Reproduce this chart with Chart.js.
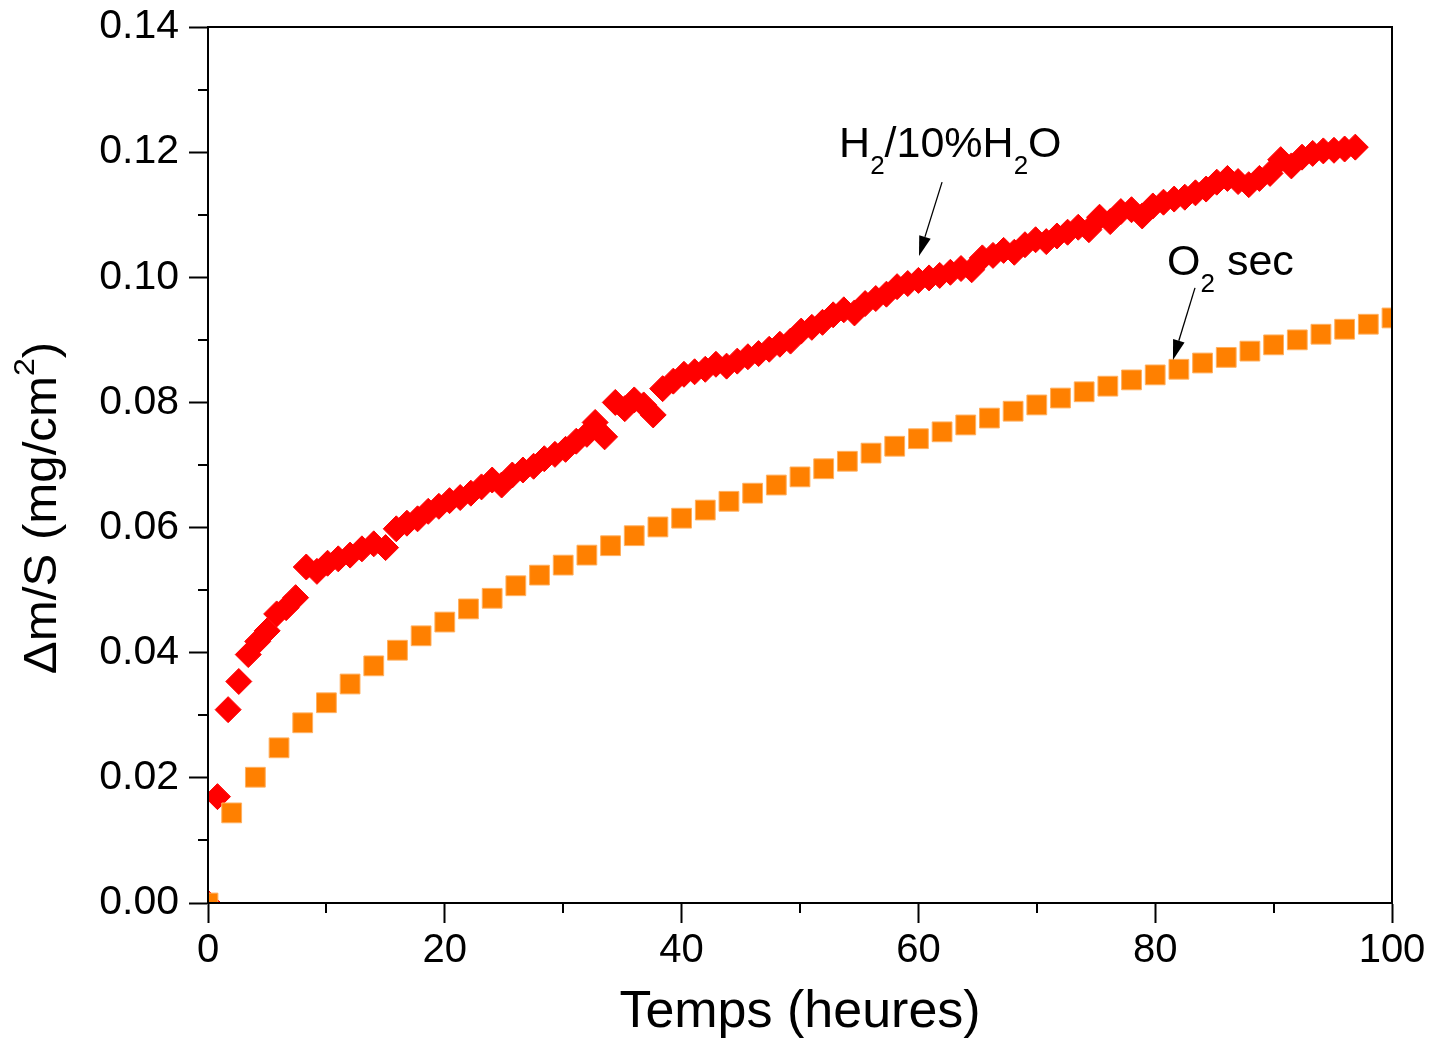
<!DOCTYPE html>
<html>
<head>
<meta charset="utf-8">
<script src="https://cdn.jsdelivr.net/npm/chart.js@4/dist/chart.umd.min.js"></script>
<style>
  html, body { margin: 0; background: #fff; }
</style>
</head>
<body>
<canvas id="myChart" width="1431" height="1039"></canvas>
<script>
// O2 sec (orange squares), every 2 h
const o2Hours = [0, 2, 4, 6, 8, 10, 12, 14, 16, 18, 20, 22, 24, 26, 28, 30, 32, 34, 36, 38, 40,
  42, 44, 46, 48, 50, 52, 54, 56, 58, 60, 62, 64, 66, 68, 70, 72, 74, 76, 78, 80,
  82, 84, 86, 88, 90, 92, 94, 96, 98, 100];
const o2Gain = [0, 0.0144, 0.0201, 0.0248, 0.0288, 0.0320, 0.0350, 0.0379, 0.0404, 0.0427, 0.0449,
  0.0470, 0.0487, 0.0507, 0.0524, 0.0540, 0.0556, 0.0571, 0.0587, 0.0601, 0.0615,
  0.0628, 0.0642, 0.0655, 0.0668, 0.0681, 0.0694, 0.0706, 0.0719, 0.0730, 0.0742,
  0.0753, 0.0764, 0.0775, 0.0786, 0.0796, 0.0807, 0.0817, 0.0826, 0.0836, 0.0844,
  0.0853, 0.0863, 0.0872, 0.0882, 0.0892, 0.0900, 0.0909, 0.0917, 0.0925, 0.0935];

// H2/10%H2O (red diamonds)
const h2oHours = [0, 0.8, 1.7, 2.6, 3.4, 4.2, 5.0, 5.8, 6.6, 7.4, 8.3, 9.2, 10.1, 11.0, 12.0,
  13.0, 14.0, 15.0, 15.9, 16.8, 17.7, 18.6, 19.5, 20.4, 21.3, 22.2, 23.1, 24.0, 24.8, 25.7,
  26.6, 27.5, 28.4, 29.3, 30.2, 31.1, 32.0, 32.7, 33.5, 34.4, 35.2, 36.0, 36.8, 37.6, 38.4,
  39.3, 40.2, 41.1, 42.0, 42.9, 43.8, 44.7, 45.6, 46.5, 47.4, 48.3, 49.2, 50.1, 51.0, 51.9,
  52.8, 53.7, 54.6, 55.5, 56.4, 57.3, 58.2, 59.1, 60.0, 60.9, 61.8, 62.7, 63.6, 64.5, 65.4,
  66.3, 67.2, 68.1, 69.0, 69.9, 70.8, 71.7, 72.6, 73.5, 74.4, 75.3, 76.2, 77.1, 78.0, 78.9,
  79.8, 80.7, 81.6, 82.5, 83.4, 84.3, 85.2, 86.1, 87.0, 87.9, 88.8, 89.7, 90.6, 91.5, 92.4,
  93.3, 94.2, 95.1, 96.0, 96.9];
const h2oGain = [0, 0.0170, 0.0309, 0.0354, 0.0397, 0.0418, 0.0435, 0.0462, 0.0472, 0.0488,
  0.0537, 0.0530, 0.0543, 0.0550, 0.0556, 0.0566, 0.0574, 0.0568, 0.0598, 0.0607,
  0.0614, 0.0626, 0.0634, 0.0643, 0.0648, 0.0655, 0.0665, 0.0676, 0.0668, 0.0684,
  0.0692, 0.0698, 0.0710, 0.0717, 0.0725, 0.0738, 0.0749, 0.0768, 0.0745, 0.0800,
  0.0790, 0.0804, 0.0796, 0.0780, 0.0822, 0.0834, 0.0845, 0.0849, 0.0853, 0.0861,
  0.0858, 0.0866, 0.0873, 0.0878, 0.0885, 0.0893, 0.0898, 0.0914, 0.0920, 0.0928,
  0.0940, 0.0948, 0.0943, 0.0958, 0.0966, 0.0973, 0.0985, 0.0990, 0.0995, 0.0999,
  0.1003, 0.1008, 0.1014, 0.1012, 0.1031, 0.1035, 0.1043, 0.1040, 0.1052, 0.1060,
  0.1057, 0.1066, 0.1072, 0.1080, 0.1076, 0.1096, 0.1089, 0.1105, 0.1108, 0.1098,
  0.1114, 0.1120, 0.1125, 0.1128, 0.1135, 0.1141, 0.1152, 0.1158, 0.1153, 0.1148,
  0.1158, 0.1166, 0.1188, 0.1178, 0.1192, 0.1198, 0.1202, 0.1203, 0.1205, 0.1208];

// axis ticks
const xMinorTicks = [10, 30, 50, 70, 90];
const yMinorTicks = [0.01, 0.03, 0.05, 0.07, 0.09, 0.11, 0.13];

// annotations: text pieces (second item: 1 = subscript), anchor in data units
const labelH2O = [['H', 0], ['2', 1], ['/10%H', 0], ['2', 1], ['O', 0]];
const labelH2OAt = [53.3, 0.1192];
const arrowH2O = [[62.0, 0.1152], [60.05, 0.1034]];
const labelO2 = [['O', 0], ['2', 1], [' sec', 0]];
const labelO2At = [81.0, 0.1004];
const arrowO2 = [[83.36, 0.0983], [81.5, 0.0868]];

const FONT = '"Liberation Sans", Arial, sans-serif';
Chart.defaults.font.family = FONT;
Chart.defaults.color = '#000';

function toXY(a, b) { return a.map((v, i) => ({x: v, y: b[i]})); }

function drawPieces(ctx, pieces, x, y) {
  let cx = x;
  pieces.forEach(([txt, sub]) => {
    ctx.font = sub ? '26px ' + FONT : '43px ' + FONT;
    ctx.fillText(txt, cx, sub ? y + 17 : y);
    cx += ctx.measureText(txt).width;
  });
}

function drawArrow(ctx, x1, y1, x2, y2) {
  const ang = Math.atan2(y2 - y1, x2 - x1);
  const len = 20, half = 6;
  ctx.strokeStyle = '#000';
  ctx.lineWidth = 1.3;
  ctx.beginPath();
  ctx.moveTo(x1, y1);
  ctx.lineTo(x2 - Math.cos(ang) * len, y2 - Math.sin(ang) * len);
  ctx.stroke();
  ctx.beginPath();
  ctx.moveTo(x2, y2);
  ctx.lineTo(x2 - Math.cos(ang) * len - Math.sin(ang) * half, y2 - Math.sin(ang) * len + Math.cos(ang) * half);
  ctx.lineTo(x2 - Math.cos(ang) * len + Math.sin(ang) * half, y2 - Math.sin(ang) * len - Math.cos(ang) * half);
  ctx.closePath();
  ctx.fillStyle = '#000';
  ctx.fill();
}

const extras = {
  id: 'extras',
  afterDraw(chart) {
    const ctx = chart.ctx;
    const area = chart.chartArea;
    const xs = chart.scales.x, ys = chart.scales.y;
    ctx.save();
    // frame
    ctx.strokeStyle = '#000';
    ctx.lineWidth = 2;
    ctx.strokeRect(area.left, area.top, area.right - area.left, area.bottom - area.top);
    // minor ticks
    ctx.beginPath();
    xMinorTicks.forEach(v => {
      const px = Math.round(xs.getPixelForValue(v));
      ctx.moveTo(px, area.bottom);
      ctx.lineTo(px, area.bottom + 10);
    });
    yMinorTicks.forEach(v => {
      const py = Math.round(ys.getPixelForValue(v));
      ctx.moveTo(area.left, py);
      ctx.lineTo(area.left - 10, py);
    });
    ctx.stroke();

    // y-axis title with superscript
    ctx.save();
    ctx.translate(56, 508);
    ctx.rotate(-Math.PI / 2);
    ctx.scale(1.07, 1);
    ctx.fillStyle = '#000';
    ctx.textBaseline = 'alphabetic';
    ctx.font = '46px ' + FONT;
    const a = 'Δm/S (mg/cm', c = ')';
    const wa = ctx.measureText(a).width, wc = ctx.measureText(c).width;
    ctx.font = '30px ' + FONT;
    const wb = ctx.measureText('2').width;
    let sx = -(wa + wb + wc) / 2;
    ctx.font = '46px ' + FONT;
    ctx.fillText(a, sx, 0);
    ctx.font = '30px ' + FONT;
    ctx.fillText('2', sx + wa, -22);
    ctx.font = '46px ' + FONT;
    ctx.fillText(c, sx + wa + wb, 0);
    ctx.restore();

    // annotations
    ctx.fillStyle = '#000';
    ctx.textBaseline = 'alphabetic';
    drawPieces(ctx, labelH2O, xs.getPixelForValue(labelH2OAt[0]), ys.getPixelForValue(labelH2OAt[1]));
    drawPieces(ctx, labelO2, xs.getPixelForValue(labelO2At[0]), ys.getPixelForValue(labelO2At[1]));
    [arrowH2O, arrowO2].forEach(([p, q]) => {
      drawArrow(ctx, xs.getPixelForValue(p[0]), ys.getPixelForValue(p[1]),
        xs.getPixelForValue(q[0]), ys.getPixelForValue(q[1]));
    });
    ctx.restore();
  }
};

new Chart(document.getElementById('myChart').getContext('2d'), {
  type: 'scatter',
  data: {
    datasets: [
      {
        label: 'O2 sec',
        data: toXY(o2Hours, o2Gain),
        pointStyle: 'rect',
        pointRadius: 14,
        backgroundColor: 'rgb(255,128,0)',
        borderColor: 'rgb(255,176,96)',
        borderWidth: 1
      },
      {
        label: 'H2/10%H2O',
        data: toXY(h2oHours, h2oGain),
        pointStyle: 'rectRot',
        pointRadius: 13,
        backgroundColor: 'rgb(255,0,0)',
        borderColor: 'rgb(255,0,0)',
        borderWidth: 1
      }
    ]
  },
  options: {
    responsive: false,
    animation: false,
    layout: { padding: { top: 27, right: 39, left: 0, bottom: 0 } },
    plugins: {
      legend: { display: false },
      tooltip: { enabled: false }
    },
    scales: {
      x: {
        type: 'linear',
        min: 0,
        max: 100,
        afterFit: (s) => { s.height = 136; s.paddingLeft = 0; s.paddingRight = 0; },
        border: { display: true, color: '#000', width: 2 },
        grid: { drawOnChartArea: false, drawTicks: true, tickLength: 20, tickWidth: 2, tickColor: '#000' },
        ticks: { stepSize: 20, padding: 4, font: { size: 40 }, color: '#000', maxRotation: 0 },
        title: { display: true, text: 'Temps (heures)', font: { size: 52, lineHeight: 1 }, color: '#000', padding: { top: 0, bottom: 0 } }
      },
      y: {
        type: 'linear',
        min: 0,
        max: 0.14,
        afterFit: (s) => { s.width = 208; s.paddingTop = 0; s.paddingBottom = 0; },
        border: { display: true, color: '#000', width: 2 },
        grid: { drawOnChartArea: false, drawTicks: true, tickLength: 19, tickWidth: 2, tickColor: '#000' },
        ticks: {
          stepSize: 0.02,
          padding: 10,
          font: { size: 41 },
          color: '#000',
          callback: (v) => v.toFixed(2)
        }
      }
    }
  },
  plugins: [extras]
});
</script>
</body>
</html>
